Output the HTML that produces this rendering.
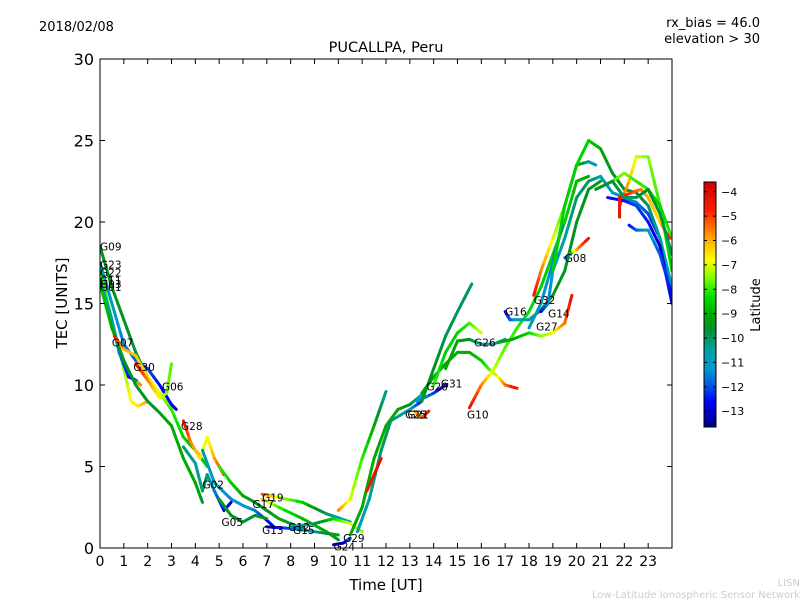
<!DOCTYPE html>
<html><head><meta charset="utf-8"><style>
body{margin:0;background:#fff;}
svg{display:block;font-family:"DejaVu Sans","Liberation Sans",sans-serif;}
</style></head><body>
<svg id="chart" width="800" height="600" viewBox="0 0 800 600">
<defs>
<linearGradient id="cmap" x1="0" y1="1" x2="0" y2="0"></linearGradient>
<clipPath id="pc"><rect x="100" y="59" width="572" height="489"/></clipPath>
</defs>
<text x="39" y="31" font-size="13">2018/02/08</text>
<text x="760" y="27" font-size="13" text-anchor="end">rx_bias = 46.0</text>
<text x="760" y="43" font-size="13" text-anchor="end">elevation &gt; 30</text>
<text x="386" y="52" font-size="14.5" text-anchor="middle">PUCALLPA, Peru</text>
<g id="marks" clip-path="url(#pc)"></g>
<g id="labels"></g>
<rect x="100" y="59" width="572" height="489" fill="none" stroke="#000" stroke-width="1"/>
<g id="axes"></g>
<text x="386" y="590" font-size="15" text-anchor="middle">Time [UT]</text>
<text transform="translate(67,303) rotate(-90)" font-size="15" text-anchor="middle">TEC [UNITS]</text>
<rect x="704" y="182" width="12" height="245" fill="url(#cmap)" stroke="#000" stroke-width="1"/>
<g id="cbticks"></g>
<text transform="translate(760,305) rotate(-90)" font-size="13" text-anchor="middle">Latitude</text>
<text x="800" y="586" font-size="10" fill="#ccc" text-anchor="end">LISN</text>
<text x="800" y="598" font-size="10" fill="#ccc" text-anchor="end">Low-Latitude Ionospheric Sensor Network</text>
</svg>
<script>
const xTicks=[0,1,2,3,4,5,6,7,8,9,10,11,12,13,14,15,16,17,18,19,20,21,22,23];
const yTicks=[0,5,10,15,20,25,30];
const cbTicks=[-4,-5,-6,-7,-8,-9,-10,-11,-12,-13];
// each track: array of [hour, TEC, latitude]
const tracks=[
[[0,18.5,-9.5],[0.5,16,-9.5],[1,14,-9.5],[1.5,12,-9.8],[2,10.5,-10],[2.5,9.5,-10.5],[3,8.5,-12.5]],
[[0,17.5,-10.5],[0.5,15,-11],[1,12.5,-11.5],[1.5,11.5,-11.8],[2,11,-12],[2.5,10,-12.5],[3,8.8,-12.8],[3.2,8.5,-13]],
[[0,17,-8],[0.5,14,-7.8],[1,11,-7.5],[1.3,9,-6.8],[1.6,8.7,-6.5],[2,9,-6]],
[[0,16.5,-10.5],[0.5,14,-11],[0.8,12,-11.5],[1.2,10.5,-12.5],[1.5,10.3,-12.8],[1.7,10,-4.5]],
[[0,16.2,-8.5],[0.5,13.5,-9],[1,11.5,-9.5],[1.5,10,-9.5],[2,9,-9.5],[2.5,8.3,-9.3],[3,7.5,-9],[3.5,5.5,-9],[4,4,-9],[4.3,2.8,-9.5]],
[[0.6,13,-4.5],[1,12.2,-6],[1.5,11.8,-6.2],[2,10.5,-6.5],[2.5,9.5,-7],[3,8.5,-8],[3.5,6.8,-8.5],[4,6,-9],[4.5,5,-8.5]],
[[1.5,11.3,-4.3],[2,10.3,-5.5],[2.5,9.2,-6.8],[2.8,9.5,-7.5],[3,11.3,-7.8]],
[[3.5,7.8,-4.3],[3.8,6.5,-5.5],[4.2,5.5,-6.5],[4.5,6.8,-7],[4.8,5.5,-6],[5.2,4.5,-4.5]],
[[3.5,6.2,-10],[4,5.2,-10.5],[4.3,3.5,-10.2],[4.5,4.5,-10],[4.8,3.5,-11.5],[5.2,2.3,-12.5],[5.5,2.8,-13]],
[[4.3,6,-10.5],[4.8,4,-11],[5.5,3,-11.5],[6,2.6,-11],[6.5,2.3,-11.5],[7,1.7,-12.5],[7.3,1.3,-13]],
[[5,5,-8],[5.5,4,-8.5],[6,3.2,-9],[6.5,2.8,-9.5],[7,2.3,-9.5],[7.5,1.8,-9],[8,1.5,-9.2],[8.5,1.2,-9.5]],
[[5,3,-9],[5.5,2,-9.5],[6,1.6,-9.8],[6.5,2,-9.5],[7,1.8,-9.5]],
[[6.8,3.3,-5],[7.5,3.1,-7],[8.5,2.8,-8.5],[9.5,2.1,-10],[10.5,1.6,-11]],
[[6.8,3,-6],[7.5,2.5,-8],[8.5,1.8,-8.8],[9.5,1,-9],[10,0.5,-9.5]],
[[7,1.3,-13],[8,1.2,-12],[9,1,-10.5],[10,0.8,-9]],
[[8,1.3,-11.5],[9,1.5,-10],[9.8,1.8,-8.5],[10.5,1.5,-7],[11,1,-7.5]],
[[9.8,0.2,-13],[10.2,0.3,-12.8],[10.5,0.6,-12]],
[[10,2.3,-5.5],[10.5,3,-7],[11,5.5,-8],[11.5,7.5,-9],[12,9.6,-10.5]],
[[10.5,0.8,-9],[11,2.5,-9],[11.5,5.5,-9],[12,7.5,-9],[12.5,8.5,-9],[13,8.8,-9.5],[13.5,9.4,-11]],
[[10.8,1,-11],[11.3,3,-10.5],[11.8,6,-10],[12.2,7.8,-10],[13,8.5,-11],[13.5,9,-12.5]],
[[11.2,3.5,-4.5],[11.8,5.5,-4.2]],
[[13.2,8.4,-6],[13.5,8,-5.5],[13.8,8.4,-4.5]],
[[13.3,9,-11],[14,9.5,-12],[14.5,10,-13]],
[[13.5,9.5,-9],[14,10.5,-9],[14.5,11.3,-9],[15,12,-9],[15.5,12,-9],[16,11.5,-8.5],[16.3,11,-8],[16.7,10.5,-7],[17,10,-5.5],[17.5,9.8,-4.3]],
[[14,10,-8],[14.5,12,-8.5],[15,13.2,-8.5],[15.5,13.8,-8],[16,13.2,-7]],
[[13.5,9,-9.5],[14,11,-9.5],[14.5,13,-9.8],[15,14.5,-10],[15.6,16.2,-10]],
[[14.5,11,-9],[15,12.7,-9.2],[15.5,12.8,-9.5],[16,12.5,-10.5],[16.5,12.5,-11],[17,12.8,-11.5]],
[[15.5,8.6,-4.3],[16,10,-5.5],[16.5,10.9,-7],[17,12.3,-7.8],[17.5,13.5,-8],[18,14.5,-8.3],[18.5,16,-8.5],[19,18,-8.5],[19.5,20,-8.5],[20,22.5,-8.8],[20.5,22.8,-9]],
[[17,14.5,-12.8],[17.2,14,-12],[17.5,14,-11],[18,14,-10.5],[18.5,14.6,-9.5],[19,15.5,-9.3],[19.5,17,-9.5],[20,20,-9.5],[20.5,22,-9.5],[21,22.5,-9.3]],
[[16.7,12.6,-9],[17.3,12.8,-9],[18,13.2,-8.5],[18.5,13,-7.5],[19,13.2,-7],[19.5,13.8,-5.5],[19.8,15.5,-4.3]],
[[18.2,15.5,-4.3],[18.5,17,-5.5],[19,19,-7],[19.5,21,-8],[20,23.5,-8.5],[20.5,23.7,-10.5],[20.8,23.5,-11]],
[[18.5,14.5,-12.8],[18.8,15,-11.5],[19,17,-11],[19.5,19,-10.5],[20,21.5,-10],[20.5,22.5,-10],[21,22.8,-10.5],[21.5,21.8,-11],[22,21.5,-11.5],[22.5,21.2,-11.5],[23,20.5,-12],[23.5,19,-12.5],[24,15.5,-13]],
[[18,13.5,-11],[18.5,15,-11],[19,17.5,-11.5],[19.4,19.8,-12]],
[[19,17,-8.5],[19.5,21,-8.5],[20,23.5,-8.5],[20.5,25,-8.5],[21,24.5,-9],[21.5,23,-9.5],[22,22,-9.5],[22.5,21.8,-9.5],[23,21,-10],[23.5,19,-10.5],[24,16,-11]],
[[21.8,21,-5],[22.2,22.5,-6],[22.5,24,-7],[23,24,-7.5],[23.5,21,-8],[24,17,-8.5]],
[[21.5,22.5,-8],[22,23,-7.5],[22.5,22.5,-8],[23,22,-8],[23.5,21,-8.5],[24,19,-8]],
[[21.3,21.5,-12.5],[22,21.3,-12.5],[22.5,21,-12],[23,20,-12.5],[23.5,18.5,-13],[24,15,-13]],
[[22.2,19.8,-12.5],[22.5,19.5,-12],[23,19.5,-11],[23.5,18,-12],[24,15.5,-12.5]],
[[21.8,20.3,-4.3],[21.8,21.5,-4.5],[22.3,21.8,-5],[22.7,22,-5.5],[23,21.5,-6],[23.5,20,-6.5],[23.9,19,-4.5]],
[[19.5,17.8,-12.5],[20,18.3,-6],[20.5,19,-4.3]],
[[20.8,22,-9.5],[21.5,22.5,-9.5],[22,21.5,-10],[22.5,21.5,-10],[23,22,-9.5],[23.5,20.5,-9.5],[24,18,-10]]
];
const labelText=["G09","G23","G22","G11","G03","G01","G07","G30","G06","G28","G02","G05","G19","G17","G13","G12","G15","G24","G29","G25","G21","G20","G31","G10","G16","G26","G32","G14","G27","G08"];
const labelPos=[[0,18.5],[0,17.4],[0,16.9],[0,16.4],[0,16.2],[0,16],[0.5,12.6],[1.4,11.1],[2.6,9.9],[3.4,7.5],[4.3,3.9],[5.1,1.6],[6.8,3.1],[6.4,2.7],[6.8,1.1],[7.9,1.3],[8.1,1.1],[9.8,0.1],[10.2,0.6],[12.8,8.2],[12.9,8.2],[13.7,9.9],[14.3,10.1],[15.4,8.2],[17,14.5],[15.7,12.6],[18.2,15.2],[18.8,14.4],[18.3,13.6],[19.5,17.8]];

const NS="http://www.w3.org/2000/svg";
const X0=100,X1=672,Y0=548,Y1=59;
function xs(t){return X0+t*(X1-X0)/24;}
function ys(v){return Y0-v*(Y0-Y1)/30;}
const LMIN=-13.65,LMAX=-3.6;
function latY(l){return 427-(l-LMIN)*(245/(LMAX-LMIN));}
const cstops=[[-13.65,[0,0,130]],[-12.6,[0,0,255]],[-12,[0,80,230]],[-11.3,[0,150,210]],[-10.5,[0,160,160]],[-9.6,[0,145,40]],[-9,[0,170,0]],[-8.3,[0,225,0]],[-7.5,[130,255,0]],[-6.8,[255,255,0]],[-6,[255,175,0]],[-5.3,[255,95,0]],[-4.8,[255,30,0]],[-3.6,[205,0,0]]];
function cmap(l){l=Math.max(LMIN,Math.min(LMAX,l));
 for(let i=0;i<cstops.length-1;i++){const a=cstops[i],b=cstops[i+1];
  if(l<=b[0]){const f=(l-a[0])/(b[0]-a[0]);const c=a[1].map((v,k)=>Math.round(v+(b[1][k]-v)*f));return `rgb(${c[0]},${c[1]},${c[2]})`;}}
 return 'rgb(205,0,0)';}
const grad=document.getElementById('cmap');
cstops.forEach(s=>{const st=document.createElementNS(NS,'stop');
 st.setAttribute('offset',(s[0]-LMIN)/(LMAX-LMIN));st.setAttribute('stop-color',`rgb(${s[1].join(',')})`);grad.appendChild(st);});
const marks=document.getElementById('marks');
tracks.forEach((tr,ti)=>{
 const g=document.createElementNS(NS,'g');
 
 
 for(let i=0;i<tr.length-1;i++){
  const a=tr[i],b=tr[i+1];
  const n=4;
  for(let k=0;k<n;k++){
   const f0=k/n,f1=(k+1)/n;
   const l=document.createElementNS(NS,'line');
   l.setAttribute('x1',xs(a[0]+(b[0]-a[0])*f0));l.setAttribute('y1',ys(a[1]+(b[1]-a[1])*f0));
   l.setAttribute('x2',xs(a[0]+(b[0]-a[0])*f1));l.setAttribute('y2',ys(a[1]+(b[1]-a[1])*f1));
   l.setAttribute('stroke',cmap(a[2]+(b[2]-a[2])*(f0+f1)/2));
   l.setAttribute('stroke-width','3');l.setAttribute('stroke-linecap','round');
   
   
   g.appendChild(l);
  }
 }
 marks.appendChild(g);
});
const lg=document.getElementById('labels');
labelText.forEach((t,i)=>{
 const e=document.createElementNS(NS,'text');
 e.setAttribute('x',xs(labelPos[i][0]));e.setAttribute('y',ys(labelPos[i][1])+4);
 e.setAttribute('font-size','10.5');e.textContent=t;
 
 
 lg.appendChild(e);
});
const ax=document.getElementById('axes');
function line(p,x1,y1,x2,y2,name){const l=document.createElementNS(NS,'line');
 l.setAttribute('x1',x1);l.setAttribute('y1',y1);l.setAttribute('x2',x2);l.setAttribute('y2',y2);
 l.setAttribute('stroke','#000');l.setAttribute('stroke-width','1');
 
 
 p.appendChild(l);}
function text(p,x,y,s,fs,anchor,name){const e=document.createElementNS(NS,'text');
 e.setAttribute('x',x);e.setAttribute('y',y);e.setAttribute('font-size',fs);e.setAttribute('text-anchor',anchor);e.textContent=s;
 
 
 p.appendChild(e);}
xTicks.forEach(t=>{const x=xs(t);line(ax,x,Y0,x,Y0-5,'x-tick');line(ax,x,Y1,x,Y1+5,'x-tick');
 text(ax,x,566,String(t),14,'middle','x-tick-label');});
yTicks.forEach(v=>{const y=ys(v);line(ax,X0,y,X0+5,y,'y-tick');line(ax,X1,y,X1-5,y,'y-tick');
 text(ax,94,y+6,String(v),16,'end','y-tick-label');});
const cb=document.getElementById('cbticks');
cbTicks.forEach(v=>{const y=latY(v);line(cb,704,y,707,y,'colorbar-tick');line(cb,716,y,713,y,'colorbar-tick');
 text(cb,721,y+4,'\u2212'+Math.abs(v),11,'start','colorbar-tick-label');});
</script>
</body></html>
